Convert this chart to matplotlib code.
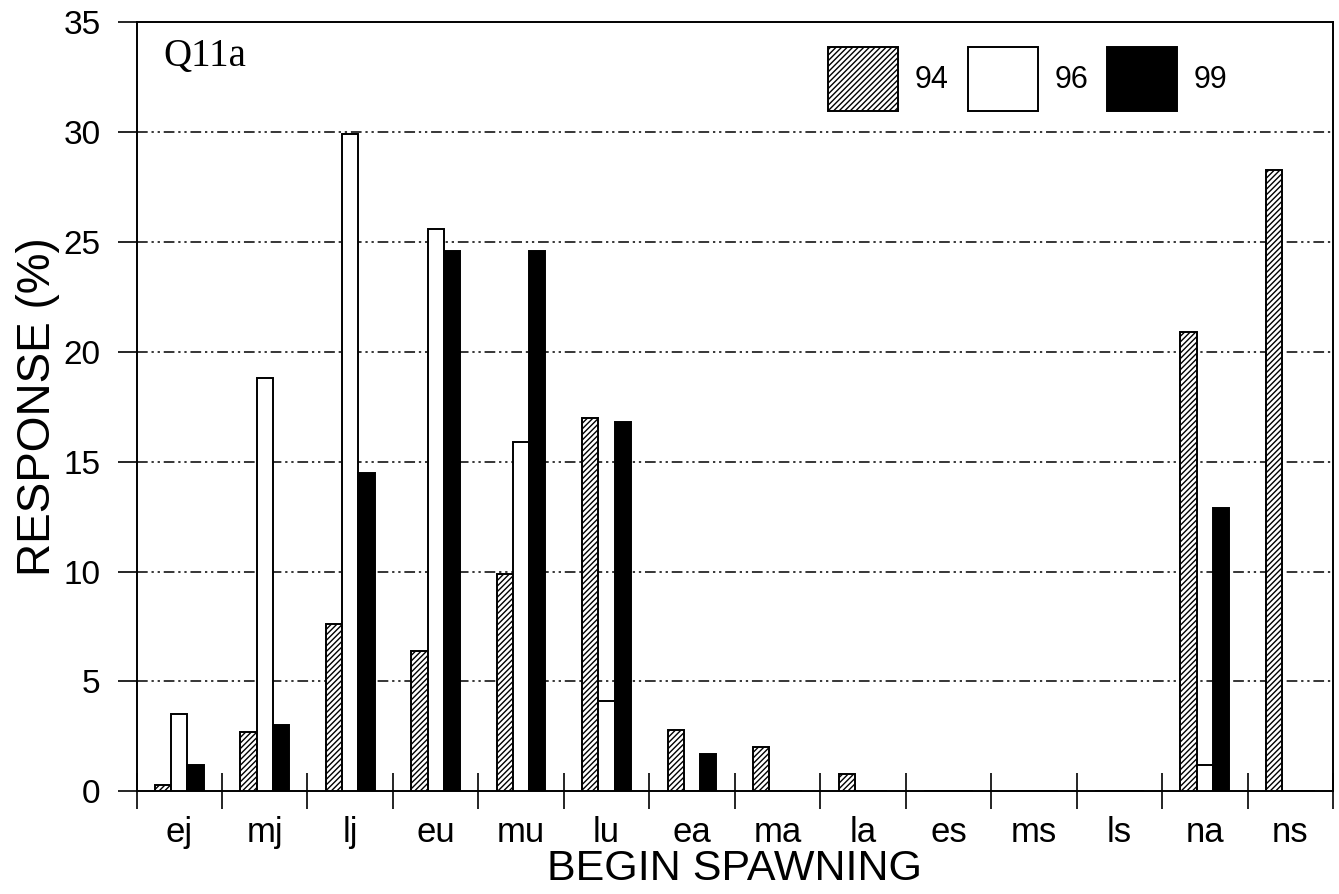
import numpy as np
import matplotlib.pyplot as plt
from matplotlib.ticker import FixedLocator

plt.rcParams['font.family'] = ['Liberation Sans', 'DejaVu Sans']
plt.rcParams['hatch.linewidth'] = 1.0

categories = ['ej', 'mj', 'lj', 'eu', 'mu', 'lu', 'ea', 'ma', 'la', 'es', 'ms', 'ls', 'na', 'ns']
years = ['94', '96', '99']
resp_94 = [0.3, 2.7, 7.6, 6.4, 9.9, 17.0, 2.8, 2.0, 0.8, 0, 0, 0, 20.9, 28.3]
resp_96 = [3.5, 18.8, 29.9, 25.6, 15.9, 4.1, 0, 0, 0, 0, 0, 0, 1.2, 0]
resp_99 = [1.2, 3.0, 14.5, 24.6, 24.6, 16.8, 1.7, 0, 0, 0, 0, 0, 12.9, 0]

fig = plt.figure(figsize=(13.39, 8.94), dpi=100)
ax = fig.add_axes([0.102, 0.115, 0.8935, 0.860])

x = np.arange(len(categories))
w = 0.19
styles = [dict(facecolor='white', hatch='//////'),
          dict(facecolor='white'),
          dict(facecolor='black')]
for i, (vals, lab, st) in enumerate(zip([resp_94, resp_96, resp_99], years, styles)):
    ax.bar(x + (i - 1) * w, vals, w, edgecolor='black', linewidth=1.4,
           label=lab, zorder=3, **st)

ax.set_xlim(-0.5, len(categories) - 0.5)
ax.set_ylim(0, 35)
ax.set_yticks(np.arange(0, 36, 5))
ax.set_xticks(x)
ax.set_xticklabels(categories)
ax.xaxis.set_minor_locator(FixedLocator(np.arange(-0.5, len(categories), 1.0)))
ax.tick_params(axis='x', which='major', length=0, pad=18, labelsize=25)
ax.tick_params(axis='x', which='minor', direction='inout', length=26, width=1.2)
ax.tick_params(axis='y', which='major', direction='out', length=14, width=1.2,
               pad=12, labelsize=24)

for s in ax.spines.values():
    s.set_linewidth(1.4)

# dash-dot-dot reference lines
for yv in range(5, 35, 5):
    ax.axhline(yv, color='black', linewidth=1.1, linestyle=(0, (7, 2.5, 1.5, 2.5, 1.5, 2.5)),
               zorder=1)

ax.set_xlabel('BEGIN SPAWNING', fontsize=31, labelpad=0)
ax.set_ylabel('RESPONSE (%)', fontsize=33, labelpad=2)

ax.text(163 / 1339, 1 - 57 / 894, 'Q11a', transform=fig.transFigure, fontsize=28,
        family=['Liberation Serif', 'DejaVu Serif'], va='center', ha='left')

ax.legend(loc='upper left', bbox_to_anchor=(828 / 1339, 1 - 47 / 894),
          bbox_transform=fig.transFigure, ncol=3, frameon=False,
          fontsize=22, handlelength=2.29, handleheight=2.85, columnspacing=0.62,
          handletextpad=0.55, borderpad=0, borderaxespad=0)

fig.savefig('out.png', dpi=100)
